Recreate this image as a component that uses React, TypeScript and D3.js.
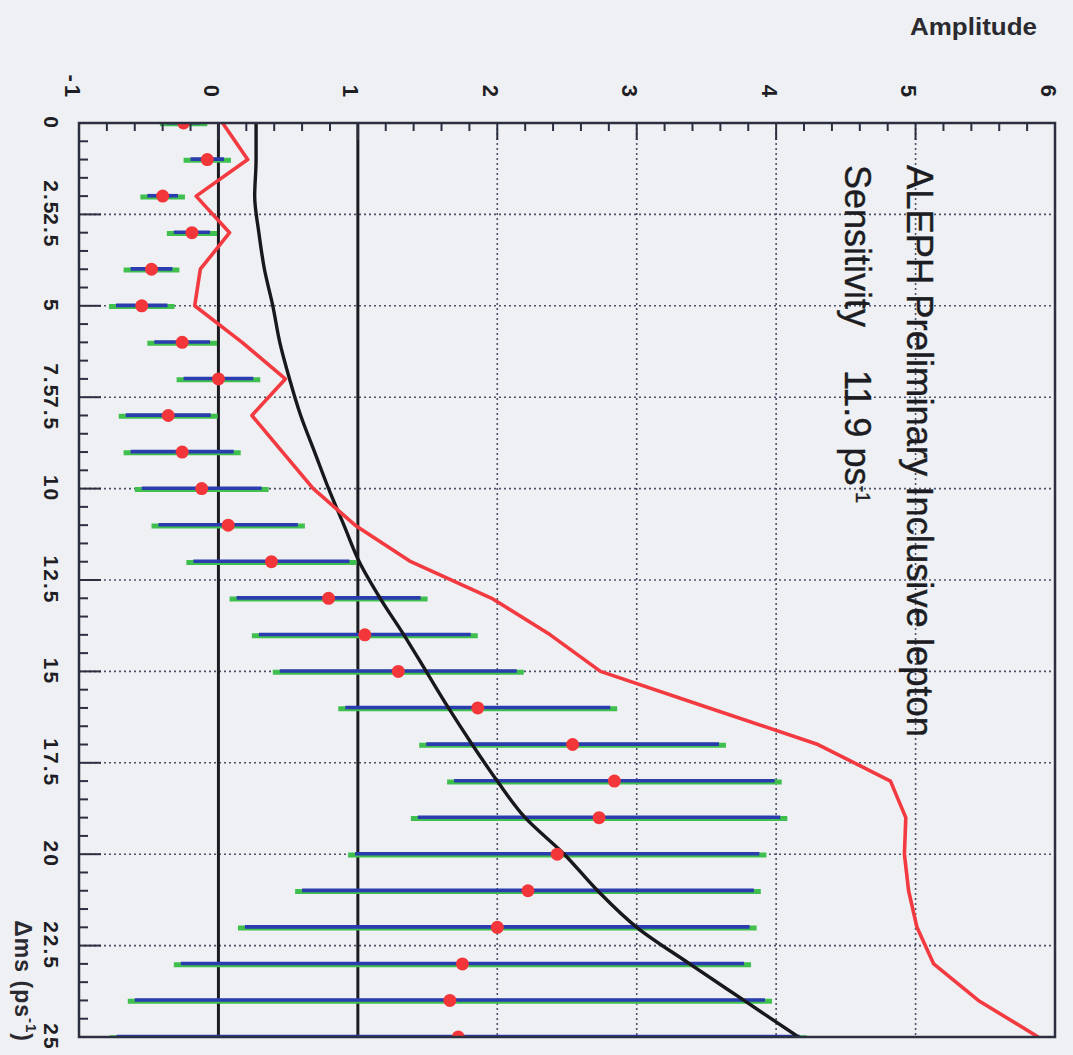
import { useEffect, useRef } from "react"
import * as d3 from "d3"

// oscillation frequency points (ps^-1)
const deltaMs = [0, 1, 2, 3, 4, 5, 6, 7, 8, 9, 10, 11, 12, 13, 14, 15, 16, 17, 18, 19, 20, 21, 22, 23, 24, 25]
// measured amplitude and its error
const amplitude = [-0.25, -0.08, -0.4, -0.19, -0.48, -0.55, -0.26, 0.0, -0.36, -0.26, -0.12, 0.07, 0.38, 0.79, 1.05, 1.29, 1.86, 2.54, 2.84, 2.73, 2.43, 2.22, 2.0, 1.75, 1.66, 1.72]
const amplitudeErr = [0.17, 0.17, 0.16, 0.18, 0.2, 0.235, 0.25, 0.3, 0.355, 0.42, 0.48, 0.55, 0.61, 0.71, 0.81, 0.9, 1.0, 1.1, 1.2, 1.35, 1.5, 1.67, 1.86, 2.07, 2.31, 2.5]
// black curve (sensitivity) and red curve (limit)
const sensitivity = [0.27, 0.27, 0.26, 0.29, 0.33, 0.39, 0.44, 0.51, 0.59, 0.69, 0.79, 0.9, 1.01, 1.16, 1.33, 1.49, 1.65, 1.82, 2.0, 2.2, 2.48, 2.72, 3.0, 3.38, 3.77, 4.16]
const limit = [0.03, 0.21, -0.16, 0.08, -0.13, -0.17, 0.17, 0.48, 0.24, 0.46, 0.68, 0.98, 1.38, 1.96, 2.38, 2.74, 3.52, 4.3, 4.82, 4.93, 4.92, 4.95, 5.01, 5.13, 5.45, 5.88]

const amplitudeTicks = [-1, 0, 1, 2, 3, 4, 5, 6]
const amplitudeGrid = [2, 3, 4, 5]
const solidLines = [0, 1]
const dmsGrid = [2.5, 5, 7.5, 10, 12.5, 15, 17.5, 20, 22.5]
const dmsLabelPos = [0, 2.05, 2.95, 5, 7.05, 7.95, 10, 12.5, 15, 17.5, 20, 22.5, 25]
const dmsLabelText = ["0", "2.5", "2.5", "5", "7.5", "7.5", "10", "12.5", "15", "17.5", "20", "22.5", "25"]

export default function App() {
  const svgRef = useRef<SVGSVGElement>(null)

  useEffect(() => {
    if (!svgRef.current) return

    const width = 1073
    const height = 1055
    const left = 79
    const right = 1055
    const top = 123
    const bottom = 1037

    d3.select(svgRef.current).selectAll("*").remove()
    const svg = d3.select(svgRef.current).attr("width", width).attr("height", height)

    const x = d3.scaleLinear().domain([-1, 6]).range([left, right])
    const y = d3.scaleLinear().domain([0, 25]).range([top, bottom])

    svg.append("rect").attr("width", width).attr("height", height).attr("fill", "#eef0f3")

    svg
      .append("clipPath")
      .attr("id", "plot-clip")
      .append("rect")
      .attr("x", left)
      .attr("y", top)
      .attr("width", right - left)
      .attr("height", bottom - top)

    const gridColor = "#4c5068"

    // dotted grid
    svg
      .selectAll(".vgrid")
      .data(amplitudeGrid)
      .enter()
      .append("line")
      .attr("x1", (d) => x(d))
      .attr("x2", (d) => x(d))
      .attr("y1", top)
      .attr("y2", bottom)
      .attr("stroke", gridColor)
      .attr("stroke-width", 1.6)
      .attr("stroke-dasharray", "2,3")

    svg
      .selectAll(".hgrid")
      .data(dmsGrid)
      .enter()
      .append("line")
      .attr("x1", left)
      .attr("x2", right)
      .attr("y1", (d) => y(d))
      .attr("y2", (d) => y(d))
      .attr("stroke", gridColor)
      .attr("stroke-width", 1.6)
      .attr("stroke-dasharray", "2,3")

    // solid lines at 0 and 1
    svg
      .selectAll(".solid")
      .data(solidLines)
      .enter()
      .append("line")
      .attr("x1", (d) => x(d))
      .attr("x2", (d) => x(d))
      .attr("y1", top)
      .attr("y2", bottom)
      .attr("stroke", "#1c1c22")
      .attr("stroke-width", 3)

    const plot = svg.append("g").attr("clip-path", "url(#plot-clip)")

    const pts = deltaMs.map((d, i) => ({ d, a: amplitude[i], e: amplitudeErr[i] }))

    // error bars: green under, blue on top
    plot
      .selectAll(".bar-g")
      .data(pts)
      .enter()
      .append("line")
      .attr("x1", (p) => x(p.a - p.e))
      .attr("x2", (p) => x(p.a + p.e))
      .attr("y1", (p) => y(p.d) + 0.8)
      .attr("y2", (p) => y(p.d) + 0.8)
      .attr("stroke", "#3fc04e")
      .attr("stroke-width", 5)

    plot
      .selectAll(".bar-b")
      .data(pts)
      .enter()
      .append("line")
      .attr("x1", (p) => x(p.a - p.e) + 7)
      .attr("x2", (p) => x(p.a + p.e) - 7)
      .attr("y1", (p) => y(p.d) - 0.4)
      .attr("y2", (p) => y(p.d) - 0.4)
      .attr("stroke", "#2b3cae")
      .attr("stroke-width", 3.6)

    // sensitivity curve
    const sensLine = d3
      .line<number>()
      .x((d) => x(d))
      .y((_, i) => y(deltaMs[i]))
      .curve(d3.curveMonotoneY)

    plot
      .append("path")
      .attr("d", sensLine(sensitivity))
      .attr("fill", "none")
      .attr("stroke", "#18181c")
      .attr("stroke-width", 3.4)

    // limit curve
    const limLine = d3
      .line<number>()
      .x((d) => x(d))
      .y((_, i) => y(deltaMs[i]))

    plot
      .append("path")
      .attr("d", limLine(limit))
      .attr("fill", "none")
      .attr("stroke", "#f23a40")
      .attr("stroke-width", 3.6)
      .attr("stroke-linejoin", "round")

    // points
    plot
      .selectAll(".dot")
      .data(pts)
      .enter()
      .append("circle")
      .attr("cx", (p) => x(p.a))
      .attr("cy", (p) => y(p.d))
      .attr("r", 6.5)
      .attr("fill", "#f2363a")

    // frame
    svg
      .append("rect")
      .attr("x", left)
      .attr("y", top)
      .attr("width", right - left)
      .attr("height", bottom - top)
      .attr("fill", "none")
      .attr("stroke", "#2c2f40")
      .attr("stroke-width", 2.5)

    // ticks on top axis
    const ampMinor = d3.range(-1, 6.001, 0.2)
    svg
      .selectAll(".tick-top")
      .data(ampMinor)
      .enter()
      .append("line")
      .attr("x1", (d) => x(d))
      .attr("x2", (d) => x(d))
      .attr("y1", top)
      .attr("y2", (d) => (Math.abs(d - Math.round(d)) < 1e-6 ? top + 17 : top + 8))
      .attr("stroke", "#2c2f40")
      .attr("stroke-width", 2)

    // ticks on left axis
    const dmsMinor = d3.range(0, 25.001, 0.5)
    svg
      .selectAll(".tick-left")
      .data(dmsMinor)
      .enter()
      .append("line")
      .attr("x1", left)
      .attr("x2", (d) => (Math.abs(d / 2.5 - Math.round(d / 2.5)) < 1e-6 ? left + 22 : left + 9))
      .attr("y1", (d) => y(d))
      .attr("y2", (d) => y(d))
      .attr("stroke", "#2c2f40")
      .attr("stroke-width", 2)

    const font = "'Liberation Sans', Arial, sans-serif"

    // amplitude tick labels (rotated)
    svg
      .selectAll(".amp-label")
      .data(amplitudeTicks)
      .enter()
      .append("text")
      .attr("transform", (d) => `translate(${x(d) - 7},100) rotate(90)`)
      .attr("text-anchor", "end")
      .attr("dominant-baseline", "central")
      .attr("font-family", font)
      .attr("font-weight", "bold")
      .attr("font-size", 22)
      .attr("letter-spacing", 3)
      .attr("fill", "#1e1e24")
      .text((d) => String(d))

    // delta ms tick labels (rotated)
    svg
      .selectAll(".dms-label")
      .data(dmsLabelPos)
      .enter()
      .append("text")
      .attr("transform", (d) => `translate(51,${y(d)}) rotate(90)`)
      .attr("text-anchor", "middle")
      .attr("dominant-baseline", "central")
      .attr("font-family", font)
      .attr("font-weight", "bold")
      .attr("font-size", 21)
      .attr("letter-spacing", 2)
      .attr("fill", "#1e1e24")
      .text((_, i) => dmsLabelText[i])

    // axis titles
    svg
      .append("text")
      .attr("x", 1037)
      .attr("y", 35)
      .attr("text-anchor", "end")
      .attr("font-family", font)
      .attr("font-weight", "bold")
      .attr("font-size", 24)
      .attr("textLength", 127)
      .attr("lengthAdjust", "spacingAndGlyphs")
      .attr("fill", "#2a2a30")
      .text("Amplitude")

    const dmsTitle = svg
      .append("text")
      .attr("transform", "translate(23,1042) rotate(90)")
      .attr("text-anchor", "end")
      .attr("dominant-baseline", "central")
      .attr("font-family", font)
      .attr("font-weight", "bold")
      .attr("font-size", 23)
      .attr("letter-spacing", 1)
      .attr("fill", "#2a2a30")
    dmsTitle.append("tspan").text("Δms (ps")
    dmsTitle.append("tspan").attr("baseline-shift", "super").attr("font-size", 15).text("-1")
    dmsTitle.append("tspan").text(")")

    // annotations inside the plot
    svg
      .append("text")
      .attr("transform", "translate(907,165) rotate(90)")
      .attr("font-family", font)
      .attr("font-size", 36)
      .attr("textLength", 572)
      .attr("lengthAdjust", "spacingAndGlyphs")
      .attr("fill", "#1c1c22")
      .attr("stroke", "#1c1c22")
      .attr("stroke-width", 0.4)
      .text("ALEPH Preliminary Inclusive lepton")

    svg
      .append("text")
      .attr("transform", "translate(845,165) rotate(90)")
      .attr("font-family", font)
      .attr("font-size", 36)
      .attr("fill", "#1c1c22")
      .attr("stroke", "#1c1c22")
      .attr("stroke-width", 0.4)
      .text("Sensitivity")

    const sens = svg
      .append("text")
      .attr("transform", "translate(845,370) rotate(90)")
      .attr("font-family", font)
      .attr("font-size", 36)
      .attr("fill", "#1c1c22")
      .attr("stroke", "#1c1c22")
      .attr("stroke-width", 0.4)
    sens.append("tspan").text("11.9 ps")
    sens.append("tspan").attr("baseline-shift", "super").attr("font-size", 20).text("-1")
  }, [])

  return (
    <div style={{ position: "absolute", left: 0, top: 0 }}>
      <svg ref={svgRef} style={{ display: "block" }} />
    </div>
  )
}
